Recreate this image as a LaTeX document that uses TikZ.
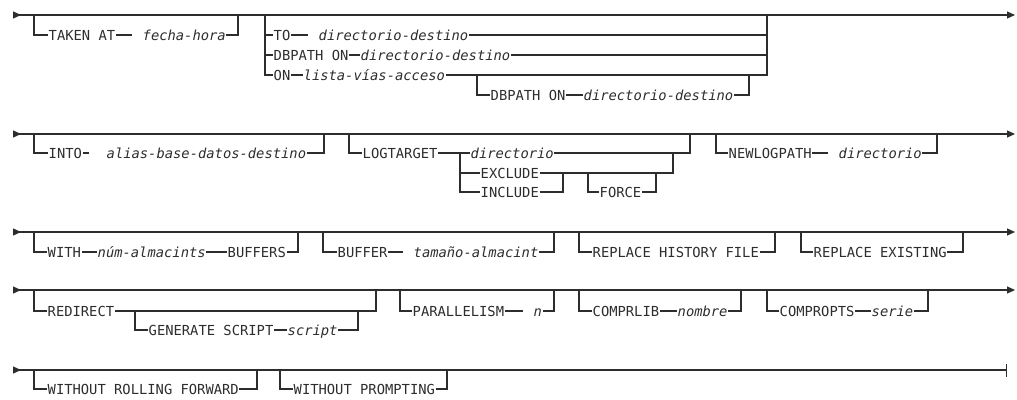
\documentclass[tikz,border=0pt]{standalone}
\usepackage{fontspec}
\usetikzlibrary{arrows.meta,positioning}
\newfontfamily\railfont{DejaVu Sans Mono}
\definecolor{wire}{RGB}{45,45,45}
\tikzset{
  rail/.style={draw=wire,line width=1.1pt},
  spaced/.style={shorten >=10pt},
  kw/.style={anchor=west,inner xsep=0.5pt,inner ysep=0pt,text height=10pt,text depth=0pt,
    text=wire,font=\railfont\fontsize{13.8pt}{16pt}\selectfont},
  var/.style={kw,font=\railfont\itshape\fontsize{13.8pt}{16pt}\selectfont},
  startend/.style={rail,{Triangle[reversed,length=8pt,width=7pt]}-{Triangle[length=8pt,width=7pt]}},
  startstop/.style={rail,{Triangle[reversed,length=8pt,width=7pt]}-{Bar[width=13pt]}},
}
\begin{document}
\begin{tikzpicture}[x=1pt,y=-1pt]
  \useasboundingbox (0,0) rectangle (1017,399);
  % ---- row 1
  \coordinate (r1-s) at (13,15);
  \coordinate (r1-e) at (1015,15);
  \draw[startend] (r1-s) -- (r1-e);
  \coordinate (ta-l) at (34,15);
  \coordinate (ta-r) at (238,15);
  \node[kw] (takenat) at (48,35) {TAKEN AT};
  \node[var] (fecha) at (142,35) {fecha-hora};
  \draw[rail] (ta-l) |- (takenat.west);
  \draw[rail,spaced] (takenat.east) -- (fecha.west);
  \draw[rail] (fecha.east) -| (ta-r);
  \coordinate (ch-l) at (265,15);
  \coordinate (ch-r) at (767,15);
  \node[kw] (to) at (273,35) {TO};
  \node[var] (todir) at (318,35) {directorio-destino};
  \node[kw] (dbp) at (273,55) {DBPATH ON};
  \node[var] (dbpdir) at (360,55) {directorio-destino};
  \node[kw] (on) at (273,75) {ON};
  \node[var] (onlist) at (303,75) {lista-vías-acceso};
  \draw[rail] (ch-l) |- (to.west);
  \draw[rail] (ch-l) |- (dbp.west);
  \draw[rail] (ch-l) |- (on.west);
  \draw[rail,spaced] (to.east) -- (todir.west);
  \draw[rail] (dbp.east) -- (dbpdir.west);
  \draw[rail] (on.east) -- (onlist.west);
  \draw[rail] (todir.east) -| (ch-r);
  \draw[rail] (dbpdir.east) -| (ch-r);
  \draw[rail] (onlist.east) -| (ch-r);
  \coordinate (nd-l) at (477,75);
  \coordinate (nd-r) at (749,75);
  \node[kw] (nddbp) at (490,95) {DBPATH ON};
  \node[var] (nddir) at (583,95) {directorio-destino};
  \draw[rail] (nd-l) |- (nddbp.west);
  \draw[rail] (nddbp.east) -- (nddir.west);
  \draw[rail] (nddir.east) -| (nd-r);
  % ---- row 2
  \coordinate (r2-s) at (13,134);
  \coordinate (r2-e) at (1015,134);
  \draw[startend] (r2-s) -- (r2-e);
  \coordinate (in-l) at (34,134);
  \coordinate (in-r) at (324,134);
  \node[kw] (into) at (48,153) {INTO};
  \node[var] (intoalias) at (106,153) {alias-base-datos-destino};
  \draw[rail] (in-l) |- (into.west);
  \draw[rail,shorten >=17pt] (into.east) -- (intoalias.west);
  \draw[rail] (intoalias.east) -| (in-r);
  \coordinate (lt-l) at (349,134);
  \coordinate (lt-r) at (690,134);
  \coordinate (lt-ch) at (460,153);
  \node[kw] (logtarget) at (362,153) {LOGTARGET};
  \node[var] (logdir) at (470,153) {directorio};
  \node[kw] (exclude) at (480,173) {EXCLUDE};
  \node[kw] (include) at (480,192) {INCLUDE};
  \draw[rail] (lt-l) |- (logtarget.west);
  \draw[rail] (logtarget.east) -- (logdir.west);
  \draw[rail] (logdir.east) -| (lt-r);
  \draw[rail] (lt-ch) |- (exclude.west);
  \draw[rail] (lt-ch) |- (include.west);
  \coordinate (ex-j) at (673,153);
  \coordinate (in-j) at (563,173);
  \draw[rail] (exclude.east) -| (ex-j);
  \draw[rail] (include.east) -| (in-j);
  \coordinate (fo-l) at (588,173);
  \coordinate (fo-r) at (656,173);
  \node[kw] (force) at (599,192) {FORCE};
  \draw[rail] (fo-l) |- (force.west);
  \draw[rail] (force.east) -| (fo-r);
  \coordinate (nl-l) at (716,134);
  \coordinate (nl-r) at (937,134);
  \node[kw] (newlogpath) at (728,153) {NEWLOGPATH};
  \node[var] (nldir) at (838,153) {directorio};
  \draw[rail] (nl-l) |- (newlogpath.west);
  \draw[rail,spaced] (newlogpath.east) -- (nldir.west);
  \draw[rail] (nldir.east) -| (nl-r);
  % ---- row 3
  \coordinate (r3-s) at (13,232);
  \coordinate (r3-e) at (1015,232);
  \draw[startend] (r3-s) -- (r3-e);
  \coordinate (wi-l) at (34,232);
  \coordinate (wi-r) at (298,232);
  \node[kw] (with) at (47,252) {WITH};
  \node[var] (numbuf) at (97,252) {núm-almacints};
  \node[kw] (buffers) at (227,252) {BUFFERS};
  \draw[rail] (wi-l) |- (with.west);
  \draw[rail] (with.east) -- (numbuf.west);
  \draw[rail] (numbuf.east) -- (buffers.west);
  \draw[rail] (buffers.east) -| (wi-r);
  \coordinate (bu-l) at (323,232);
  \coordinate (bu-r) at (554,232);
  \node[kw] (buffer) at (337,252) {BUFFER};
  \node[var] (tamano) at (413,252) {tamaño-almacint};
  \draw[rail] (bu-l) |- (buffer.west);
  \draw[rail,spaced] (buffer.east) -- (tamano.west);
  \draw[rail] (tamano.east) -| (bu-r);
  \coordinate (rh-l) at (579,232);
  \coordinate (rh-r) at (775,232);
  \node[kw] (rhist) at (592,252) {REPLACE HISTORY FILE};
  \draw[rail] (rh-l) |- (rhist.west);
  \draw[rail] (rhist.east) -| (rh-r);
  \coordinate (rx-l) at (801,232);
  \coordinate (rx-r) at (963,232);
  \node[kw] (rexist) at (813,252) {REPLACE EXISTING};
  \draw[rail] (rx-l) |- (rexist.west);
  \draw[rail] (rexist.east) -| (rx-r);
  % ---- row 4
  \coordinate (r4-s) at (13,290);
  \coordinate (r4-e) at (1015,290);
  \draw[startend] (r4-s) -- (r4-e);
  \coordinate (rd-l) at (34,290);
  \coordinate (rd-r) at (376,290);
  \node[kw] (redirect) at (47,311) {REDIRECT};
  \draw[rail] (rd-l) |- (redirect.west);
  \draw[rail] (redirect.east) -| (rd-r);
  \coordinate (gs-l) at (135,311);
  \coordinate (gs-r) at (358,311);
  \node[kw] (genscript) at (148,330) {GENERATE SCRIPT};
  \node[var] (script) at (287,330) {script};
  \draw[rail] (gs-l) |- (genscript.west);
  \draw[rail] (genscript.east) -- (script.west);
  \draw[rail] (script.east) -| (gs-r);
  \coordinate (pa-l) at (400,290);
  \coordinate (pa-r) at (554,290);
  \node[kw] (parallel) at (412,311) {PARALLELISM};
  \node[var] (parn) at (533,311) {n};
  \draw[rail] (pa-l) |- (parallel.west);
  \draw[rail,spaced] (parallel.east) -- (parn.west);
  \draw[rail] (parn.east) -| (pa-r);
  \coordinate (cl-l) at (579,290);
  \coordinate (cl-r) at (741,290);
  \node[kw] (comprlib) at (592,311) {COMPRLIB};
  \node[var] (nombre) at (677,311) {nombre};
  \draw[rail] (cl-l) |- (comprlib.west);
  \draw[rail] (comprlib.east) -- (nombre.west);
  \draw[rail] (nombre.east) -| (cl-r);
  \coordinate (co-l) at (767,290);
  \coordinate (co-r) at (928,290);
  \node[kw] (compropts) at (779,311) {COMPROPTS};
  \node[var] (serie) at (871,311) {serie};
  \draw[rail] (co-l) |- (compropts.west);
  \draw[rail] (compropts.east) -- (serie.west);
  \draw[rail] (serie.east) -| (co-r);
  % ---- row 5
  \coordinate (r5-s) at (13,370);
  \coordinate (r5-e) at (1007,370);
  \draw[startstop] (r5-s) -- (r5-e);
  \coordinate (wr-l) at (34,370);
  \coordinate (wr-r) at (257,370);
  \node[kw] (rollfwd) at (47,389) {WITHOUT ROLLING FORWARD};
  \draw[rail] (wr-l) |- (rollfwd.west);
  \draw[rail] (rollfwd.east) -| (wr-r);
  \coordinate (wp-l) at (280,370);
  \coordinate (wp-r) at (447,370);
  \node[kw] (prompting) at (293,389) {WITHOUT PROMPTING};
  \draw[rail] (wp-l) |- (prompting.west);
  \draw[rail] (prompting.east) -| (wp-r);
\end{tikzpicture}
\end{document}
